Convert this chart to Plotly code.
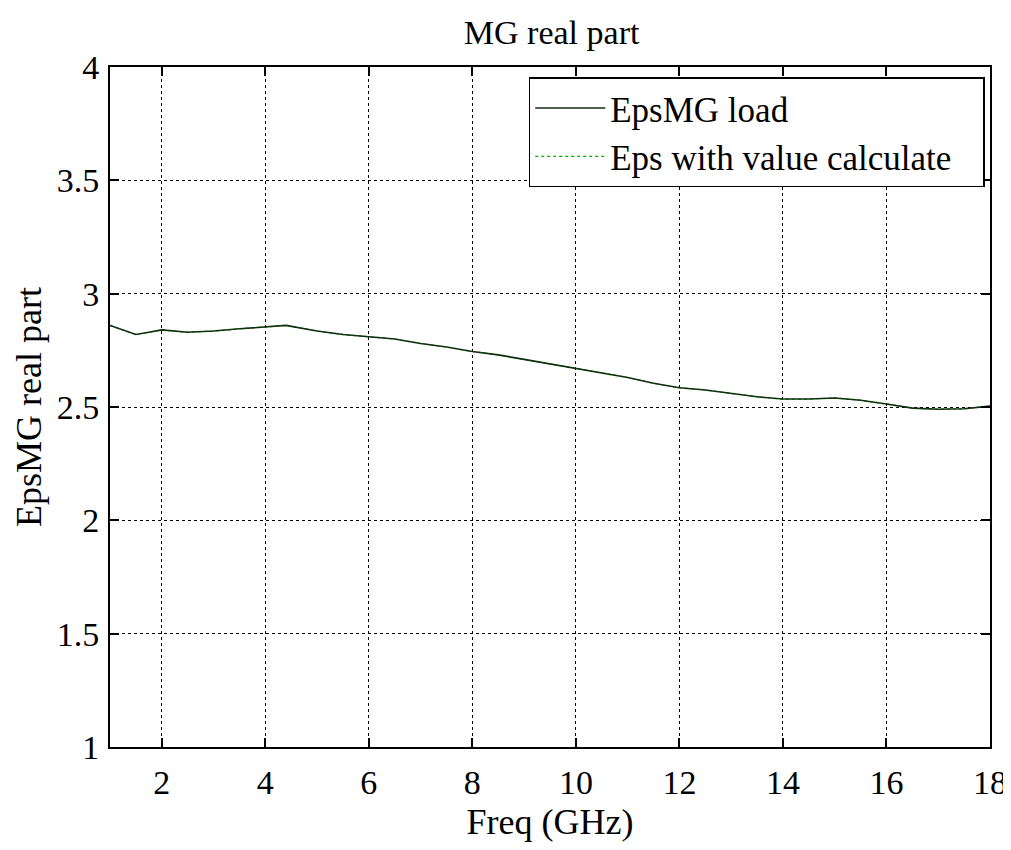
import plotly.graph_objects as go

freq = [1.0, 1.25, 1.5, 1.75, 2.0, 2.5, 3.0, 3.5, 4.0, 4.4, 5.0, 5.5, 6.0, 6.5, 7.0,
        7.5, 8.0, 8.5, 9.0, 9.5, 10.0, 10.5, 11.0, 11.5, 12.0, 12.5, 13.0, 13.5,
        14.0, 14.5, 15.0, 15.5, 16.0, 16.5, 17.0, 17.5, 18.0]
eps_load = [2.86, 2.84, 2.82, 2.83, 2.84, 2.83, 2.835, 2.845, 2.855, 2.86, 2.835, 2.82,
            2.81, 2.80, 2.78, 2.765, 2.745, 2.73, 2.71, 2.69, 2.67, 2.65, 2.63, 2.605,
            2.585, 2.575, 2.56, 2.545, 2.535, 2.535, 2.54, 2.53, 2.513, 2.495, 2.49,
            2.492, 2.504]
eps_calc = list(eps_load)
series_names = ["EpsMG load", "Eps with value calculate"]

serif = "Liberation Serif"

fig = go.Figure()
fig.add_trace(go.Scatter(x=freq, y=eps_calc, mode="lines",
                         name=series_names[1] + "\u00a0\u00a0\u00a0",
                         line=dict(color="#00b000", width=1.2, dash="dot")))
fig.add_trace(go.Scatter(x=freq, y=eps_load, mode="lines", name=series_names[0],
                         line=dict(color="#103010", width=1.6)))

tickfont = dict(family=serif, size=34, color="black")
labfont = dict(family=serif, size=36, color="black")

axis_common = dict(showline=True, linecolor="black", linewidth=2, mirror="ticks",
                   ticks="inside", ticklen=9, tickcolor="black", tickwidth=1.5,
                   showgrid=True, gridcolor="black", griddash="dot", gridwidth=1,
                   zeroline=False, tickfont=tickfont, ticklabeloverflow="allow",
                   automargin=False)

fig.update_layout(
    width=1003, height=834,
    paper_bgcolor="white", plot_bgcolor="white",
    margin=dict(l=102, r=21, t=59, b=95, autoexpand=False),
    title=dict(text="MG real part", x=0.542, xanchor="center", y=0.971, yanchor="middle",
               font=dict(family=serif, size=34, color="black")),
    xaxis=dict(range=[1, 18], tickvals=[2, 4, 6, 8, 10, 12, 14, 16, 18],
               ticklabelstandoff=4,
               title=dict(text="Freq (GHz)", font=labfont, standoff=10),
               **axis_common),
    yaxis=dict(range=[1, 4], tickvals=[1, 1.5, 2, 2.5, 3, 3.5, 4],
               ticktext=["1", "1.5", "2", "2.5", "3", "3.5", "4"],
               ticklabelstandoff=2,
               title=dict(text="EpsMG real part", font=labfont, standoff=4),
               **axis_common),
    legend=dict(x=0.994, y=0.985, xanchor="right", yanchor="top", traceorder="reversed",
                bgcolor="white", bordercolor="black", borderwidth=1.5, itemwidth=70,
                font=dict(family=serif, size=35, color="black"), tracegroupgap=0),
    showlegend=True,
)

fig.write_html("out.html")
